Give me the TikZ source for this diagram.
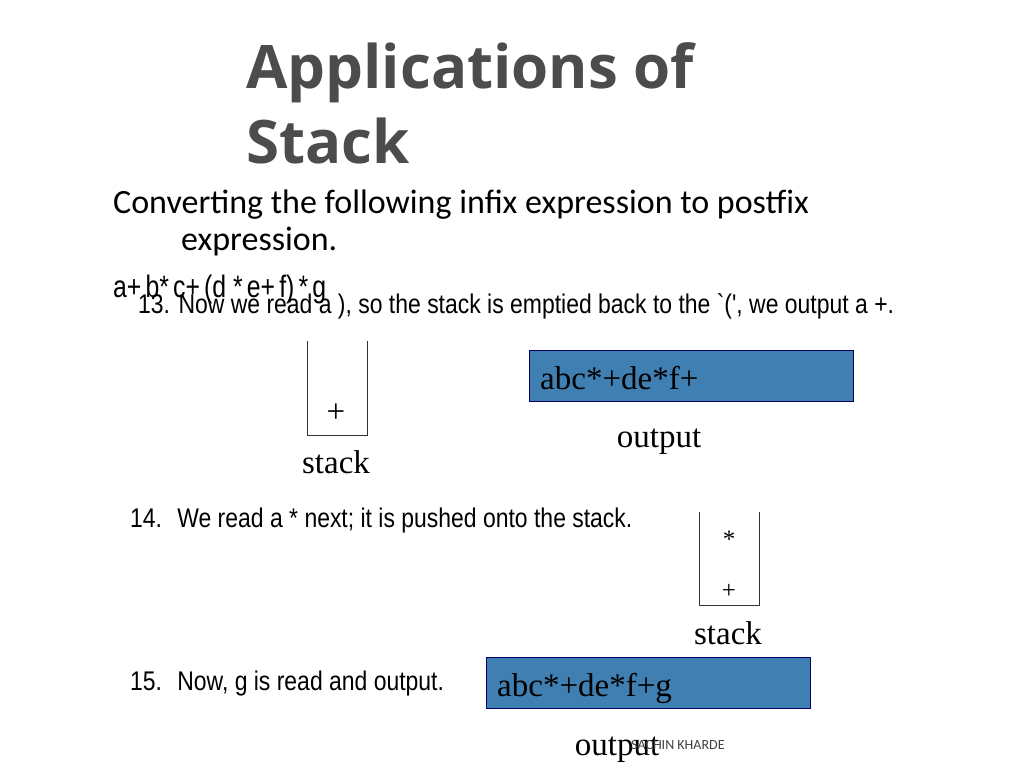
\documentclass[tikz,border=0pt]{standalone}
\usepackage{fontspec}
\setmainfont{Liberation Serif}
\newfontfamily\titlefont{Open Sans}
\newfontfamily\bodyfont{Carlito}
\newfontfamily\itemfont{Liberation Sans}
\begin{document}
\begin{tikzpicture}[x=1pt,y=-1pt,
   stackline/.style={draw=black!80, line width=0.6pt},
   outbox/.style={draw=blue!40!black, fill=blue!45!cyan!60!black!75, line width=0.8pt},
   item/.style={anchor=base west, inner sep=0pt, font=\itemfont\fontsize{27}{30}\selectfont, xscale=0.85, transform shape},
   serif/.style={anchor=base, inner sep=0pt, font=\fontsize{33}{36}\selectfont}]
   \useasboundingbox (0,0) rectangle (1024,768);
   % title
   \node[anchor=base west, inner sep=0pt, font=\titlefont\bfseries\fontsize{60}{64}\selectfont, text=black!70] (t1) at (246,88) {Applications of};
   \node[anchor=base west, inner sep=0pt, font=\titlefont\bfseries\fontsize{60}{64}\selectfont, text=black!70] (t2) at (246,163) {Stack};
   \node[anchor=base west, inner sep=0pt, font=\bodyfont\fontsize{34}{36}\selectfont] (intro) at (113,213) {Converting the following infix expression to postfix};
   \node[anchor=base west, inner sep=0pt, font=\bodyfont\fontsize{34}{36}\selectfont] (intro2) at (181,250) {expression.};
   \node[anchor=base west, inner sep=0pt, font=\itemfont\fontsize{31}{34}\selectfont, xscale=0.8, transform shape] (expr) at (113,297) {a+\,b*\,c+\,(d *\,e+\,f)\,*\,g};
   \node[item] (s13) at (138,313) {13. Now we read a ), so the stack is emptied back to the `(', we output a +.};
   % stack 1
   \draw[stackline] (307,341) -- (307,435) -- (367,435) -- (367,341);
   \node[serif] (p1) at (336,422) {+};
   \node[serif] (st1) at (336,473) {stack};
   \node[outbox, minimum width=324pt, minimum height=51pt, anchor=north west] (o1) at (529,350) {};
   \node[serif, anchor=base west] (o1t) at (540,389) {abc*+de*f+};
   \node[serif] (ol1) at (659,447) {output};
   % item 14
   \node[item] (s14) at (130,527) {14.\hspace{8pt} We read a * next; it is pushed onto the stack.};
   \draw[stackline] (699,512) -- (699,605) -- (759,605) -- (759,512);
   \node[serif, font=\fontsize{25}{28}\selectfont] (m2) at (729,547) {*};
   \node[serif, font=\fontsize{25}{28}\selectfont] (p2) at (729,598) {+};
   \node[serif] (st2) at (728,644) {stack};
   % item 15
   \node[item] (s15) at (130,690) {15.\hspace{8pt} Now, g is read and output.};
   \node[outbox, minimum width=324pt, minimum height=51pt, anchor=north west] (o2) at (486,657) {};
   \node[serif, anchor=base west] (o2t) at (497,696) {abc*+de*f+g};
   \node[serif] (ol2) at (617,755) {output};
   \node[anchor=base west, inner sep=0pt, font=\bodyfont\fontsize{14}{16}\selectfont, text=black!75] (ft) at (631,749) {SACHIN KHARDE};
\end{tikzpicture}
\end{document}
